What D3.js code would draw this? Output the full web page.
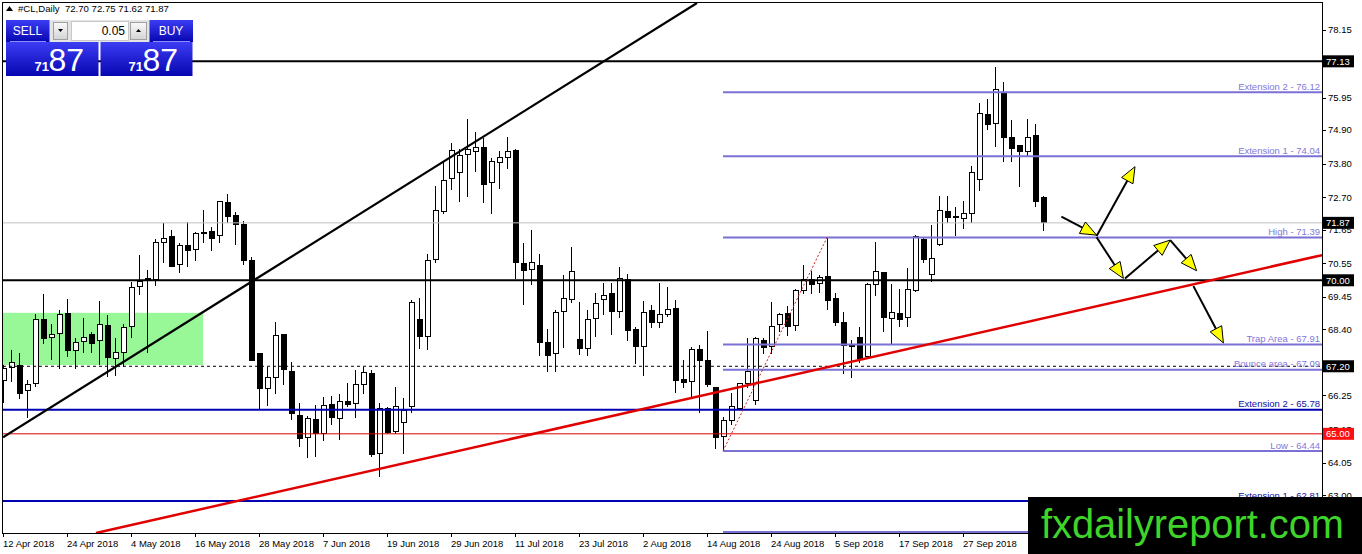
<!DOCTYPE html>
<html><head><meta charset="utf-8">
<script src="https://cdn.jsdelivr.net/npm/d3@7"></script>
<style>
body{margin:0;background:#fff;}
svg{display:block;font-family:"Liberation Sans",Arial,sans-serif;}
</style>
</head><body>
<svg id="c" width="1362" height="554"></svg>
<script>
// ---------------- DATA ----------------
const openP = [66.75,67.16,67.24,66.40,66.64,68.73,68.14,68.27,68.92,67.71,
68.00,68.22,68.03,68.53,67.45,67.65,68.49,69.79,70.02,70.03,
71.22,71.44,70.53,71.14,71.01,71.55,71.60,71.46,72.54,72.11,
71.83,70.66,67.60,66.48,66.84,68.25,67.04,65.61,64.88,65.47,
65.01,65.96,65.50,66.04,65.99,66.59,66.97,64.36,65.83,65.07,
65.37,65.90,68.73,68.16,70.68,72.23,73.32,73.51,74.08,74.20,
74.33,73.19,73.84,74.00,74.24,70.55,70.35,70.48,67.98,67.62,
68.99,69.38,68.07,67.78,68.76,69.38,69.57,68.97,70.01,68.41,
67.84,69.00,68.63,68.89,69.08,66.77,66.70,67.73,67.40,66.51,
64.90,65.45,65.83,66.64,66.10,68.05,67.84,68.57,68.92,68.54,
69.68,70.01,69.90,70.11,69.41,68.63,67.89,68.14,67.51,69.87,
70.24,68.76,68.92,68.79,69.68,71.34,70.20,71.15,72.23,72.09,
72.02,72.16,73.29,75.41,75.11,76.11,74.65,74.40,74.19,74.70,
72.70];
const highP = [67.24,67.73,67.64,66.75,68.89,69.54,68.59,69.03,69.39,68.11,
68.76,68.32,69.33,68.87,68.11,68.57,69.95,70.82,70.35,71.33,
71.85,71.64,71.22,71.89,71.58,72.29,71.74,72.57,72.81,72.23,
71.94,70.77,67.60,67.18,68.64,68.25,67.35,66.02,65.58,65.93,
66.21,66.23,66.31,66.64,67.08,67.17,67.08,65.99,65.88,66.53,
66.18,69.36,69.41,70.85,73.07,73.86,74.46,74.29,75.24,74.84,
74.64,73.97,74.22,74.65,74.26,71.20,71.63,70.84,68.40,69.03,
70.17,71.07,69.28,69.03,69.57,69.90,69.90,70.42,70.22,68.49,
69.32,69.19,69.90,69.77,69.35,67.40,67.84,67.89,68.36,66.51,
65.56,66.34,66.66,68.11,68.16,68.11,69.30,68.94,69.16,69.70,
70.50,70.31,70.17,71.39,69.57,68.97,68.07,68.49,69.90,71.25,
70.28,69.88,69.70,70.39,71.47,71.42,71.80,72.74,72.74,72.40,
72.59,73.72,75.78,75.89,76.93,76.47,75.22,74.40,75.24,75.09,
72.75];
const lowP = [65.99,66.69,66.12,65.53,66.53,67.94,67.40,67.10,67.51,67.10,
67.62,67.62,67.24,66.84,66.88,67.18,68.11,69.52,67.62,69.83,
70.55,70.44,70.25,70.42,70.64,71.20,70.96,71.22,71.87,71.15,
70.50,67.38,65.77,65.90,66.31,66.59,65.45,64.56,64.20,64.25,
64.77,65.28,64.79,65.86,65.50,66.31,64.25,63.58,64.99,64.99,
64.34,65.68,67.75,67.73,70.55,72.16,72.94,72.56,72.72,73.53,
72.53,72.16,72.97,73.62,70.03,69.19,69.84,67.53,67.02,67.02,
67.78,69.27,67.56,67.53,68.16,68.87,68.22,68.76,68.03,67.27,
66.88,68.43,68.45,68.81,66.32,66.48,66.15,65.69,66.53,64.50,
64.44,65.28,65.77,66.48,65.94,67.60,67.60,68.32,68.18,68.36,
69.55,69.55,69.57,69.03,68.51,66.94,66.82,67.31,67.49,69.49,
68.32,67.94,68.49,68.49,69.63,70.55,69.95,71.11,71.87,71.45,
71.66,71.87,72.92,74.89,74.33,73.86,73.86,73.05,74.00,72.37,
71.62];
const closeP = [67.13,67.31,66.31,66.62,68.73,68.11,68.25,68.89,67.71,67.97,
68.14,67.94,68.56,67.49,67.65,68.46,69.77,69.97,70.06,71.24,
71.36,70.46,71.14,70.96,71.53,71.57,71.35,72.55,72.07,71.81,
70.66,67.40,66.46,66.84,68.20,67.10,65.66,64.85,65.50,65.01,
65.92,65.53,66.04,65.97,66.59,66.99,64.33,65.83,65.03,65.90,
65.77,69.28,68.16,70.64,72.26,73.24,74.22,74.05,74.26,74.33,
73.12,73.88,74.00,74.20,70.57,70.31,70.58,67.97,67.54,68.95,
69.40,70.28,67.78,68.72,69.25,69.50,68.97,70.06,68.36,67.84,
68.95,68.63,68.89,69.05,66.75,66.66,67.73,67.38,66.59,64.88,
65.45,65.88,66.64,67.04,68.11,67.81,68.51,68.90,68.49,69.68,
70.01,69.87,70.08,69.33,68.62,67.89,67.84,67.45,69.87,70.28,
68.79,68.95,68.73,69.70,71.42,70.68,70.71,72.27,72.05,72.03,
72.18,73.51,75.44,75.06,76.22,74.65,74.30,74.19,74.65,72.56,
71.87];

const dateLabels = ["12 Apr 2018","24 Apr 2018","4 May 2018","16 May 2018","28 May 2018","7 Jun 2018",
  "19 Jun 2018","29 Jun 2018","11 Jul 2018","23 Jul 2018","2 Aug 2018","14 Aug 2018",
  "24 Aug 2018","5 Sep 2018","17 Sep 2018","27 Sep 2018"];
const dateBars = [0,8,16,24,32,40,48,56,64,72,80,88,96,104,112,120];

// axis ticks (those fully hidden under price tags are left out)
const yTicks = [78.15,75.95,74.90,73.80,72.70,71.65,70.55,69.45,68.40,66.25,65.15,64.05,63.00];

const blackLevels = [77.13, 70.00];
const bidLevel = 71.87;
const dashedLevel = 67.20;
const blueLevels = [65.78, 62.81];
const blueLabels = ["Extension 2 - 65.78", "Extension 1 - 62.81"];
const redLevel = 65.00;
const fibStartBar = 90;
const fibLevels = [76.12, 74.04, 71.39, 67.91, 67.09, 64.44, 61.80];
const fibLabels = ["Extension 2 - 76.12","Extension 1 - 74.04","High - 71.39","Trap Area - 67.91",
  "Bounce area - 67.09","Low - 64.44"];
const fibDiag = [[90, 64.44],[103, 71.39]];

const tagPrices = [77.13, 71.87, 70.00, 67.20, 65.00];

const blackTrend = [[0, 64.89],[86.75, 79.03]];
const redTrend = [[11.625, 61.77],[164.875, 70.82]];
const greenBoxBars = [-0.1, 25];
const greenBoxPrices = [67.24, 68.94];

// projected path arrows [bar0, price0, bar1, price1]
const arrows = [
  [132.3, 72.07, 136.7, 71.47],
  [136.7, 71.44, 141.5, 73.70],
  [136.7, 71.40, 140.05, 70.06],
  [140.25, 70.06, 145.9, 71.31],
  [145.9, 71.31, 149.2, 70.31],
  [148.8, 69.81, 152.55, 67.96]
];

const titleText = "#CL,Daily  72.70 72.75 71.62 71.87";
const bidBig = ["71","87"];
const lotText = "0.05";

// ---------------- DRAW ----------------
const svg = d3.select('#c');
const W = 1362, H = 554;
const L = 3, R = 1322, T = 3, B = 533;
const x = d3.scaleLinear().domain([0, 164.875]).range([3, 1322]);
const y = d3.scaleLinear().domain([78.15, 64.05]).range([30, 463]);

svg.append('rect').attr('width',W).attr('height',H).attr('fill','#fff');

const defs = svg.append('defs');
defs.append('clipPath').attr('id','plot').append('rect')
  .attr('x',L).attr('y',T).attr('width',R-L).attr('height',B-T);
const g1 = defs.append('linearGradient').attr('id','blueG').attr('x1',0).attr('y1',0).attr('x2',0).attr('y2',1);
g1.append('stop').attr('offset','0%').attr('stop-color','#3c3cf4');
g1.append('stop').attr('offset','100%').attr('stop-color','#0606b0');
const g2 = defs.append('linearGradient').attr('id','greyG').attr('x1',0).attr('y1',0).attr('x2',0).attr('y2',1);
g2.append('stop').attr('offset','0%').attr('stop-color','#fafafa');
g2.append('stop').attr('offset','100%').attr('stop-color','#d4d4d4');

const plot = svg.append('g').attr('clip-path','url(#plot)');

// green rectangle (background)
plot.append('rect')
  .attr('x', x(greenBoxBars[0])).attr('width', x(greenBoxBars[1]) - x(greenBoxBars[0]))
  .attr('y', y(greenBoxPrices[1])).attr('height', y(greenBoxPrices[0]) - y(greenBoxPrices[1]))
  .attr('fill','#98f898');

// candles
const idx = d3.range(openP.length);
const cg = plot.append('g').attr('shape-rendering','crispEdges');
cg.selectAll('line.w').data(idx).join('line')
  .attr('x1', i => x(i)+0.5).attr('x2', i => x(i)+0.5)
  .attr('y1', i => y(highP[i])).attr('y2', i => y(lowP[i]))
  .attr('stroke','#000').attr('stroke-width',1);
cg.selectAll('rect.b').data(idx).join('rect')
  .attr('x', i => x(i)-2)
  .attr('width', 5)
  .attr('y', i => y(Math.max(openP[i], closeP[i])))
  .attr('height', i => Math.max(1, Math.abs(y(openP[i]) - y(closeP[i]))))
  .attr('fill', i => closeP[i] >= openP[i] ? '#fff' : '#000')
  .attr('stroke','#000').attr('stroke-width',1);

// horizontal levels
function hline(p, color, w, dash, x0) {
  plot.append('line').attr('x1', x0 === undefined ? L : x0).attr('x2', R)
    .attr('y1', y(p)).attr('y2', y(p))
    .attr('stroke', color).attr('stroke-width', w)
    .attr('stroke-dasharray', dash || null);
}
hline(bidLevel, '#c0c0c0', 1);
hline(dashedLevel, '#000', 1, '3,3');
hline(redLevel, '#dd0000', 1);
blueLevels.forEach(p => hline(p, '#0000b4', 2));
blackLevels.forEach(p => hline(p, '#000', 2));
fibLevels.forEach(p => hline(p, '#7b70d4', 2, null, x(fibStartBar)));

// fib diagonal
plot.append('line')
  .attr('x1', x(fibDiag[0][0])).attr('y1', y(fibDiag[0][1]))
  .attr('x2', x(fibDiag[1][0])).attr('y2', y(fibDiag[1][1]))
  .attr('stroke','#d02020').attr('stroke-width',1).attr('stroke-dasharray','2,2');

// trend lines
[ [blackTrend, '#000'], [redTrend, '#e00000'] ].forEach(([t, c]) => {
  plot.append('line')
    .attr('x1', x(t[0][0])).attr('y1', y(t[0][1]))
    .attr('x2', x(t[1][0])).attr('y2', y(t[1][1]))
    .attr('stroke', c).attr('stroke-width', c === '#000' ? 2.2 : 2.5);
});

// level labels
const lab = plot.append('g').attr('font-size','9.5px').attr('text-anchor','end');
fibLabels.forEach((t, k) => {
  lab.append('text').attr('x', R-2).attr('y', y(fibLevels[k])-2.5).attr('fill','#8378d8').text(t);
});
blueLevels.forEach((p, k) => {
  lab.append('text').attr('x', R-2).attr('y', y(p)-2.5).attr('fill','#1010a0').text(blueLabels[k]);
});

// arrows
const ag = plot.append('g');
arrows.forEach(a => {
  const x0 = x(a[0]), y0 = y(a[1]), x1 = x(a[2]), y1 = y(a[3]);
  const dx = x1-x0, dy = y1-y0, len = Math.hypot(dx, dy);
  const ux = dx/len, uy = dy/len;
  const hl = 16, hw = 6.5;
  const bx = x1 - ux*hl, by = y1 - uy*hl;
  ag.append('line').attr('x1',x0).attr('y1',y0).attr('x2',bx).attr('y2',by)
    .attr('stroke','#000').attr('stroke-width',2);
  ag.append('polygon')
    .attr('points', [[x1,y1],[bx - uy*hw, by + ux*hw],[bx + uy*hw, by - ux*hw]].map(p=>p.join(',')).join(' '))
    .attr('fill','#ffff00').attr('stroke','#000').attr('stroke-width',1);
});

// frame
svg.append('rect').attr('x',L-0.5).attr('y',T-0.5).attr('width',R-L+1).attr('height',B-T+1)
  .attr('fill','none').attr('stroke','#000').attr('stroke-width',1).attr('shape-rendering','crispEdges');

// right axis
const ra = svg.append('g').attr('font-size','9.5px').attr('fill','#000');
yTicks.forEach(v => {
  ra.append('line').attr('x1',R).attr('x2',R+4).attr('y1',Math.round(y(v))+0.5).attr('y2',Math.round(y(v))+0.5)
    .attr('stroke','#000').attr('shape-rendering','crispEdges');
  ra.append('text').attr('x',R+6).attr('y',y(v)).attr('dy','0.35em').text(v.toFixed(2));
});
tagPrices.forEach(p => {
  const yy = y(p);
  ra.append('rect').attr('x',R+1).attr('y',yy-6).attr('width',31).attr('height',12)
    .attr('fill', p === redLevel ? '#ff1010' : '#000');
  ra.append('text').attr('x',R+4).attr('y',yy).attr('dy','0.35em').attr('fill','#fff').text(p.toFixed(2));
});

// bottom axis
const ba = svg.append('g').attr('font-size','9.5px');
dateBars.forEach((b, k) => {
  ba.append('line').attr('x1',x(b)+0.5).attr('x2',x(b)+0.5).attr('y1',B).attr('y2',B+4)
    .attr('stroke','#000').attr('shape-rendering','crispEdges');
  ba.append('text').attr('x',x(b)).attr('y',547).text(dateLabels[k]);
});

// title
svg.append('path').attr('d','M6,11 L9.5,6 L13,11 Z').attr('fill','#000');
svg.append('text').attr('x',18).attr('y',12).attr('font-size','9.6px').attr('xml:space','preserve').text(titleText);

// trade panel
const tp = svg.append('g');
tp.append('rect').attr('x',49).attr('y',20).attr('width',101).attr('height',22).attr('fill','#e4e4e4');
tp.append('rect').attr('x',6).attr('y',20).attr('width',43.5).attr('height',22).attr('fill','url(#blueG)');
tp.append('rect').attr('x',149.5).attr('y',20).attr('width',43.5).attr('height',22).attr('fill','url(#blueG)');
tp.append('line').attr('x1',10).attr('x2',46).attr('y1',41.5).attr('y2',41.5).attr('stroke','#8c8cff');
tp.append('line').attr('x1',153).attr('x2',190).attr('y1',41.5).attr('y2',41.5).attr('stroke','#8c8cff');
tp.append('text').attr('x',27.5).attr('y',35).attr('text-anchor','middle').attr('fill','#fff').attr('font-size','12px').text('SELL');
tp.append('text').attr('x',171).attr('y',35).attr('text-anchor','middle').attr('fill','#fff').attr('font-size','12px').text('BUY');
tp.append('rect').attr('x',53.5).attr('y',22.5).attr('width',14).attr('height',17).attr('fill','url(#greyG)').attr('stroke','#a0a0a0');
tp.append('rect').attr('x',71.5).attr('y',21.5).attr('width',57).attr('height',19).attr('fill','#fff').attr('stroke','#c8c8c8');
tp.append('rect').attr('x',130.5).attr('y',22.5).attr('width',16).attr('height',17).attr('fill','url(#greyG)').attr('stroke','#a0a0a0');
tp.append('path').attr('d','M58,29 L63,29 L60.5,32 Z').attr('fill','#000');
tp.append('path').attr('d','M136,32 L141,32 L138.5,29 Z').attr('fill','#000');
tp.append('text').attr('x',125).attr('y',35).attr('text-anchor','end').attr('font-size','12px').attr('fill','#000').text(lotText);
[[6,98.5],[100.5,192.5]].forEach(([a,b], k) => {
  tp.append('rect').attr('x',a).attr('y',42).attr('width',b-a).attr('height',34).attr('fill','url(#blueG)');
  const right = k === 0 ? 84 : 178;
  tp.append('text').attr('x',right).attr('y',71).attr('text-anchor','end').attr('fill','#fff')
    .attr('font-size','32px').text(bidBig[1]);
  tp.append('text').attr('x',right-35).attr('y',71).attr('text-anchor','end').attr('fill','#fff')
    .attr('font-size','13px').attr('font-weight','bold').text(bidBig[0]);
});

// watermark logo
svg.append('rect').attr('x',1028).attr('y',497).attr('width',W-1028).attr('height',H-497).attr('fill','#000');
svg.append('text').attr('x',1041).attr('y',538).attr('font-size','40px').attr('fill','#3fd42a')
  .attr('textLength',303).attr('lengthAdjust','spacingAndGlyphs').text('fxdailyreport.com');
</script>
</body></html>
